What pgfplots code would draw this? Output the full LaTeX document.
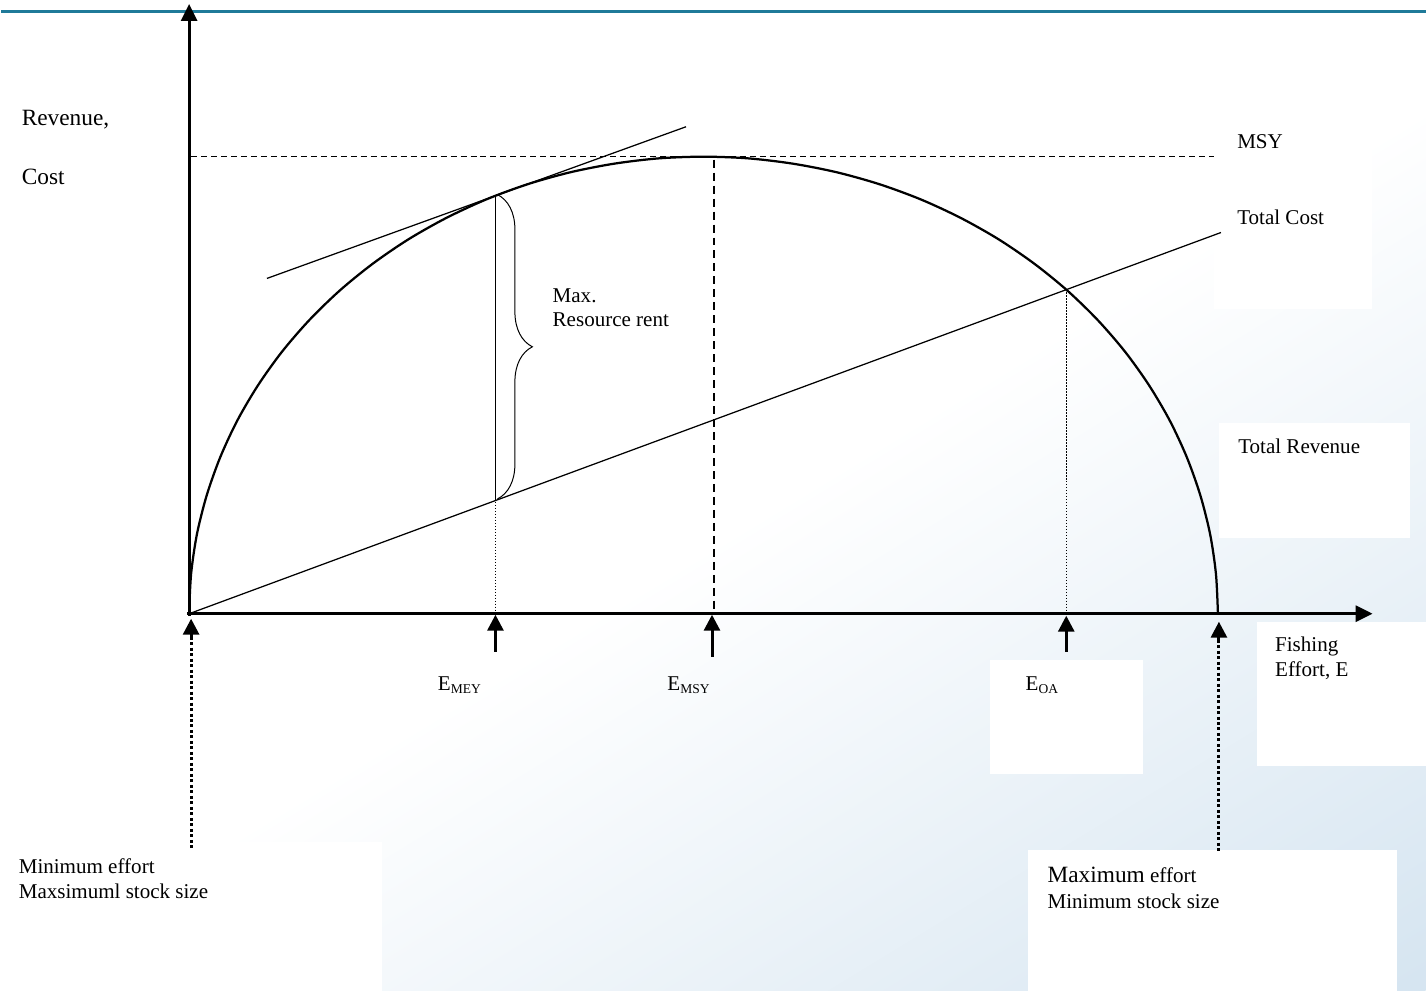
\documentclass[border=0pt]{standalone}
\usepackage{pgfplots}
\pgfplotsset{compat=1.18}
\usepackage{fontspec}
\setmainfont{Liberation Serif}
\usetikzlibrary{arrows.meta,decorations.pathreplacing,shadings}
\definecolor{bgblue}{RGB}{206,224,238}
\definecolor{topteal}{RGB}{31,122,153}
\pgfdeclareverticalshading{bglin}{100bp}{color(0bp)=(bgblue); color(9.96bp)=(bgblue); color(48.33bp)=(white); color(100bp)=(white)}
\newcommand{\sub}[1]{\raisebox{-1.7pt}{\fontsize{7.7}{8}\selectfont #1}}
\begin{document}
\begin{tikzpicture}
\begin{axis}[scale only axis, width=285.4mm, height=198.6mm,
  xmin=0, xmax=1427, ymin=0, ymax=993, y dir=reverse,
  hide axis, clip=false]
% background
\shade[shading=bglin, shading angle=31.37] (axis cs:0,0) rectangle (axis cs:1427,993);
\fill[white] (axis cs:1215,110) rectangle (axis cs:1373,310);
\fill[white] (axis cs:1220,424) rectangle (axis cs:1411,539);
\fill[white] (axis cs:1258,623) rectangle (axis cs:1427,768);
\fill[white] (axis cs:991,661) rectangle (axis cs:1144,776);
\fill[white] (axis cs:0,844) rectangle (axis cs:381,993);
\fill[white] (axis cs:1029,852) rectangle (axis cs:1398,993);
% top rule
\addplot[topteal, line width=0.6mm] coordinates {(0,12) (1427,12)};
% MSY dashed
\addplot[black, line width=0.25mm, dash pattern=on 1.2mm off 0.8mm] coordinates {(190,157) (1215,157)};
% verticals
\addplot[black, line width=0.2mm, dash pattern=on 0.3mm off 0.3mm] coordinates {(495,500) (495,615)};
\addplot[black, line width=0.25mm] coordinates {(495,195) (495,500)};
\addplot[black, line width=0.25mm, dash pattern=on 1.6mm off 1mm] coordinates {(714,160) (714,615)};
\addplot[black, line width=0.2mm, dash pattern=on 0.3mm off 0.3mm] coordinates {(1067,290) (1067,615)};
% tangent
\addplot[black, line width=0.25mm] coordinates {(266,279) (686,127)};
% total cost
\addplot[black, line width=0.25mm] coordinates {(188,615) (1222,233)};
% total revenue
\addplot[black, line width=0.45mm, smooth] coordinates {
(188,615) (190.0,575.1) (195.8,535.5) (205.6,496.5) (219.1,458.4) (236.3,421.4)
(257.1,386) (281.2,352.3) (308.6,320.6) (339.0,291.1) (372.1,264.2) (407.8,239.8)
(445.7,218.4) (485.6,199.9) (527.2,184.6) (570.1,172.6) (614.0,164.0) (658.5,158.7)
(703.5,157) (748.5,158.7) (793.0,164.0) (836.9,172.6) (879.8,184.6) (921.4,199.9)
(961.3,218.4) (999.2,239.8) (1034.9,264.2) (1068.0,291.1) (1098.4,320.6) (1125.8,352.3)
(1149.9,386) (1170.7,421.4) (1187.9,458.4) (1201.4,496.5) (1211.2,535.5) (1217.0,575.1)
(1219,615)};
% axes
\addplot[black, line width=0.6mm, -{Triangle[width=3.2mm,length=3.4mm]}] coordinates {(188,617) (188,4)};
\addplot[black, line width=0.6mm, -{Triangle[width=3.2mm,length=3.4mm]}] coordinates {(186,615) (1374,615)};
% up arrows
\addplot[black, line width=0.6mm, -{Triangle[width=3.2mm,length=3.2mm]}] coordinates {(495,653) (495,616)};
\addplot[black, line width=0.6mm, -{Triangle[width=3.2mm,length=3.2mm]}] coordinates {(712,658) (712,616)};
\addplot[black, line width=0.6mm, -{Triangle[width=3.2mm,length=3.2mm]}] coordinates {(1067,653) (1067,617)};
\addplot[black, line width=0.6mm, -{Triangle[width=3.2mm,length=3.2mm]}] coordinates {(190,640) (190,620)};
\addplot[black, line width=0.6mm, -{Triangle[width=3.2mm,length=3.2mm]}] coordinates {(1220,643) (1220,623)};
\addplot[black, line width=0.6mm, dash pattern=on 0.6mm off 0.5mm] coordinates {(190,638) (190,850)};
\addplot[black, line width=0.6mm, dash pattern=on 0.6mm off 0.5mm] coordinates {(1220,641) (1220,855)};
% brace
\draw[black, line width=0.2mm, decorate, decoration={brace, amplitude=7mm, aspect=0.5}]
  (axis cs:497,195) -- (axis cs:497,500);
% labels
\begin{scope}[every node/.style={anchor=base west, inner sep=0pt, font=\fontsize{12}{14}\selectfont}]
\node[font=\fontsize{13.3}{15}\selectfont] at (axis cs:20,126) {Revenue,};
\node[font=\fontsize{13.3}{15}\selectfont] at (axis cs:20,185) {Cost};
\node at (axis cs:1238,149) {MSY};
\node at (axis cs:1238,225) {Total Cost};
\node at (axis cs:1239,454) {Total Revenue};
\node at (axis cs:552,303) {Max.};
\node at (axis cs:552,327) {Resource rent};
\node at (axis cs:437,692) {E\sub{MEY}};
\node at (axis cs:667,692) {E\sub{MSY}};
\node at (axis cs:1026,692) {E\sub{OA}};
\node at (axis cs:1276,653) {Fishing};
\node at (axis cs:1276,678) {Effort, E};
\node at (axis cs:17,875) {Minimum effort};
\node at (axis cs:17,900) {Maxsimuml stock size};
\node at (axis cs:1048,884) {{\fontsize{13.3}{15}\selectfont Maximum} effort};
\node at (axis cs:1048,910) {Minimum stock size};
\end{scope}
\end{axis}
\end{tikzpicture}
\end{document}
